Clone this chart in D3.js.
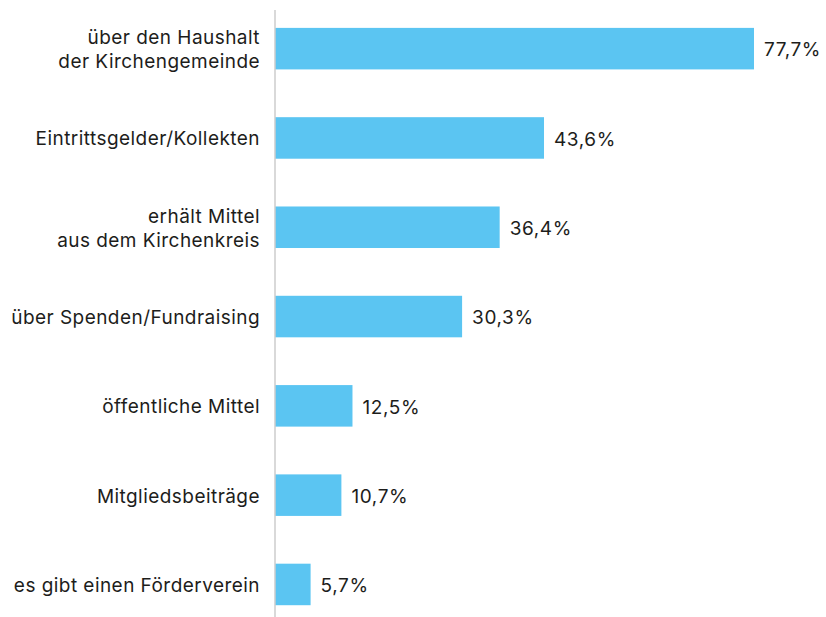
<!DOCTYPE html>
<html><head><meta charset="utf-8">
<script src="https://cdn.jsdelivr.net/npm/d3@7"></script>
<style>body{margin:0;background:#fff}</style>
</head><body>
<svg id="chart" width="826" height="617"></svg>
<script>
const categories = [
  ["über den Haushalt", "der Kirchengemeinde"],
  ["Eintrittsgelder/Kollekten"],
  ["erhält Mittel", "aus dem Kirchenkreis"],
  ["über Spenden/Fundraising"],
  ["öffentliche Mittel"],
  ["Mitgliedsbeiträge"],
  ["es gibt einen Förderverein"]
];
const values = [77.7, 43.6, 36.4, 30.3, 12.5, 10.7, 5.7];

const W = 826, H = 617;
const svg = d3.select("#chart");
const x0 = 275.5;
const x = d3.scaleLinear().domain([0, 77.7]).range([x0, 754]);
const keys = categories.map(c => c.join(" "));
const y = d3.scaleBand().domain(keys).range([4, 629.1]).paddingInner(0.535).paddingOuter(0.2675);
const loc = d3.formatLocale({decimal: ",", thousands: ".", grouping: [3], currency: ["", "€"]});
const fmt = loc.format(".1f");
const font = "Inter, 'Open Sans', sans-serif";

const data = keys.map((k, i) => ({k, lines: categories[i], v: values[i]}));

svg.selectAll("rect.bar").data(data).join("rect")
  .attr("class", "bar")
  .attr("x", x(0)).attr("y", d => y(d.k))
  .attr("width", d => x(d.v) - x(0)).attr("height", y.bandwidth())
  .attr("fill", "#5BC5F2");

svg.append("line").attr("x1", x0 - 0.5).attr("x2", x0 - 0.5).attr("y1", 10).attr("y2", H)
  .attr("stroke", "#b3b3b3").attr("stroke-width", 1);

const lab = svg.selectAll("text.cat").data(data).join("text")
  .attr("class", "cat")
  .attr("text-anchor", "end")
  .attr("font-family", font).attr("font-size", 19).attr("letter-spacing", 0.45)
  .attr("fill", "#1d1d1b");
lab.each(function(d) {
  const c = y(d.k) + y.bandwidth() / 2;
  const t = d3.select(this);
  if (d.lines.length === 1) {
    t.append("tspan").attr("x", 260).attr("y", c + 7.5).text(d.lines[0]);
  } else {
    t.append("tspan").attr("x", 260).attr("y", c - 4.5).text(d.lines[0]);
    t.append("tspan").attr("x", 260).attr("y", c + 19.5).text(d.lines[1]);
  }
});

svg.selectAll("text.val").data(data).join("text")
  .attr("class", "val")
  .attr("x", d => x(d.v) + 10)
  .attr("y", d => y(d.k) + y.bandwidth() / 2 + 7.7)
  .attr("font-family", font).attr("font-size", 19).attr("letter-spacing", 0.6)
  .attr("fill", "#1d1d1b")
  .text(d => fmt(d.v) + "%");
</script>
</body></html>
